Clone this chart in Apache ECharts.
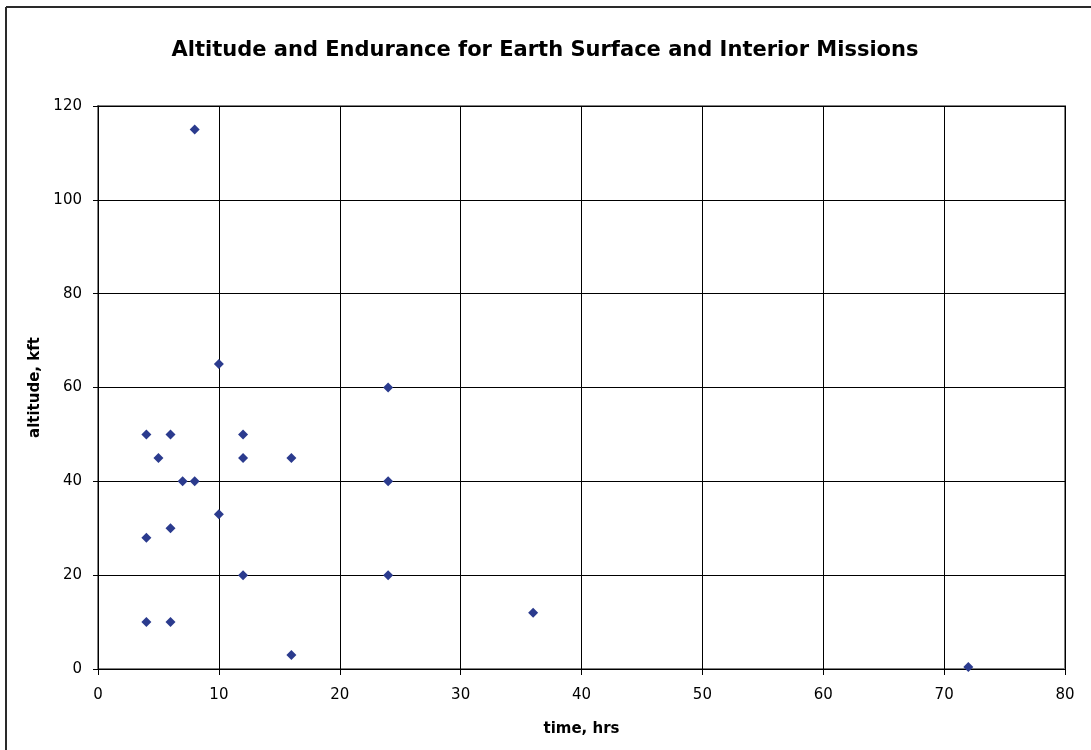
<!DOCTYPE html>
<html><head><meta charset="utf-8">
<script src="https://cdn.jsdelivr.net/npm/echarts@6/dist/echarts.min.js"></script>
<style>html,body{margin:0;padding:0;background:#fff}#c{width:1091px;height:750px}</style>
</head><body><div id="c"></div>
<script>
const titleText = "Altitude and Endurance for Earth Surface and Interior Missions";
const xName = "time, hrs";
const yName = "altitude, kft";
const timeHrs =    [8, 10, 24, 4, 6, 12, 5, 12, 16, 7, 8, 24, 10, 6, 4, 12, 24, 36, 4, 6, 16, 72];
const altitudeKft = [115, 65, 60, 50, 50, 50, 45, 45, 45, 40, 40, 40, 33, 30, 28, 20, 20, 12, 10, 10, 3, 0.4];

const chart = echarts.init(document.getElementById('c'));
const font = "'DejaVu Sans', Verdana, sans-serif";
chart.setOption({
  animation: false,
  backgroundColor: '#fff',
  title: {
    text: titleText, left: 540, textAlign: 'center', top: 35,
    textStyle: {fontFamily: font, fontSize: 21, fontWeight: 'bold', color: '#000'}
  },
  graphic: [
    {type: 'line', shape: {x1: 6, y1: 7, x2: 1091, y2: 7}, style: {stroke: '#2a2a2a', lineWidth: 2}},
    {type: 'line', shape: {x1: 6, y1: 7, x2: 6, y2: 750}, style: {stroke: '#2a2a2a', lineWidth: 2}}
  ],
  grid: {left: 98, right: 26, top: 106, bottom: 81, show: true, borderColor: '#808080', borderWidth: 2, backgroundColor: '#fff'},
  xAxis: {
    type: 'value', min: 0, max: 80, interval: 10,
    name: xName, nameLocation: 'middle', nameGap: 53,
    nameTextStyle: {fontFamily: font, fontSize: 15, fontWeight: 'bold', color: '#000'},
    axisLine: {show: true, lineStyle: {color: '#000', width: 1}},
    axisTick: {show: true, length: 6, lineStyle: {color: '#000'}},
    axisLabel: {fontFamily: font, fontSize: 15, color: '#000', margin: 19},
    splitLine: {show: true, lineStyle: {color: '#000', width: 1}}
  },
  yAxis: {
    type: 'value', min: 0, max: 120, interval: 20,
    name: yName, nameLocation: 'middle', nameGap: 52, nameRotate: 90,
    nameTextStyle: {fontFamily: font, fontSize: 15, fontWeight: 'bold', color: '#000'},
    axisLine: {show: true, lineStyle: {color: '#000', width: 1}},
    axisTick: {show: true, length: 5, lineStyle: {color: '#000'}},
    axisLabel: {fontFamily: font, fontSize: 15, color: '#000', margin: 16},
    splitLine: {show: true, lineStyle: {color: '#000', width: 1}}
  },
  series: [{
    type: 'scatter', symbol: 'diamond', symbolSize: 10,
    itemStyle: {color: '#2b3b8e', opacity: 1},
    data: timeHrs.map((t, i) => [t, altitudeKft[i]])
  }]
});
</script></body></html>
